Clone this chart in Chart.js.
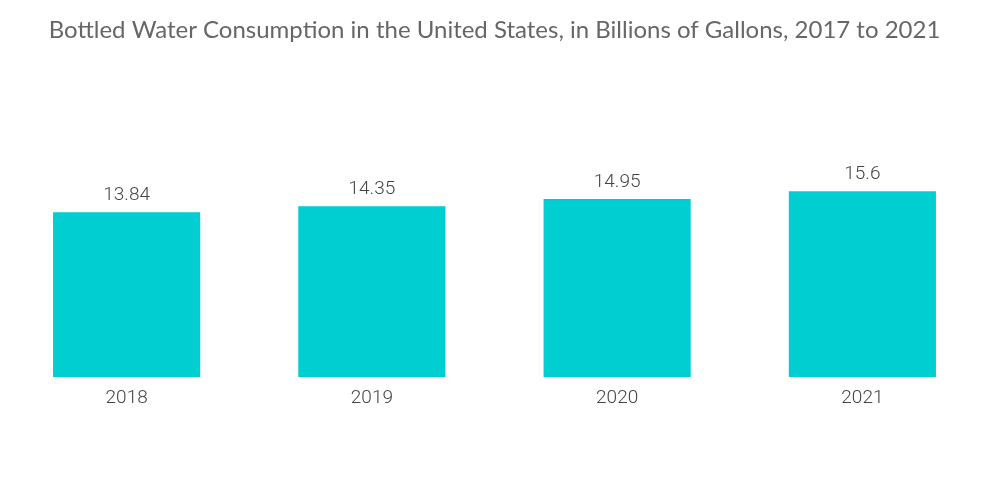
<!DOCTYPE html>
<html>
<head>
<meta charset="utf-8">
<script src="https://cdn.jsdelivr.net/npm/chart.js@4"></script>
<style>
  html, body { margin: 0; padding: 0; background: #fff; }
  #wrap { width: 1000px; height: 504px; }
</style>
</head>
<body>
<div id="wrap"><canvas id="myChart" width="1000" height="504"></canvas></div>
<script>
const years = ['2018', '2019', '2020', '2021'];
const gallons = [13.84, 14.35, 14.95, 15.6];
const valueLabels = ['13.84', '14.35', '14.95', '15.6'];

// writes the value above each bar
const barValues = {
    id: 'barValues',
    afterDatasetsDraw(chart) {
        const ctx = chart.ctx;
        const meta = chart.getDatasetMeta(0);
        ctx.save();
        ctx.font = '300 19px Roboto';
        ctx.fillStyle = '#444';
        ctx.textAlign = 'center';
        ctx.textBaseline = 'bottom';
        meta.data.forEach((bar, i) => {
            ctx.fillText(valueLabels[i], bar.x, bar.y - 7);
        });
        ctx.restore();
    }
};

const ctx = document.getElementById('myChart');

new Chart(ctx, {
    type: 'bar',
    data: {
        labels: years,
        datasets: [{
            label: 'Bottled water',
            data: gallons,
            backgroundColor: '#00CED1',
            barPercentage: 0.6,
            categoryPercentage: 1
        }]
    },
    options: {
        responsive: false,
        animation: false,
        layout: {
            padding: { left: 4, right: 15, top: 0, bottom: 92 }
        },
        plugins: {
            legend: { display: false },
            tooltip: { enabled: false },
            title: {
                display: true,
                text: 'Bottled Water Consumption in the United States, in Billions of Gallons, 2017 to 2021',
                color: '#666',
                font: { family: 'Lato', size: 24, weight: 'normal' },
                padding: { top: 16, bottom: 94 }
            }
        },
        scales: {
            x: {
                grid: { display: false },
                border: { display: false },
                ticks: {
                    color: '#444',
                    padding: 2,
                    font: { family: 'Roboto', size: 19, weight: '300' }
                }
            },
            y: {
                display: false,
                min: 0,
                max: 20
            }
        }
    },
    plugins: [barValues]
});
</script>
</body>
</html>
